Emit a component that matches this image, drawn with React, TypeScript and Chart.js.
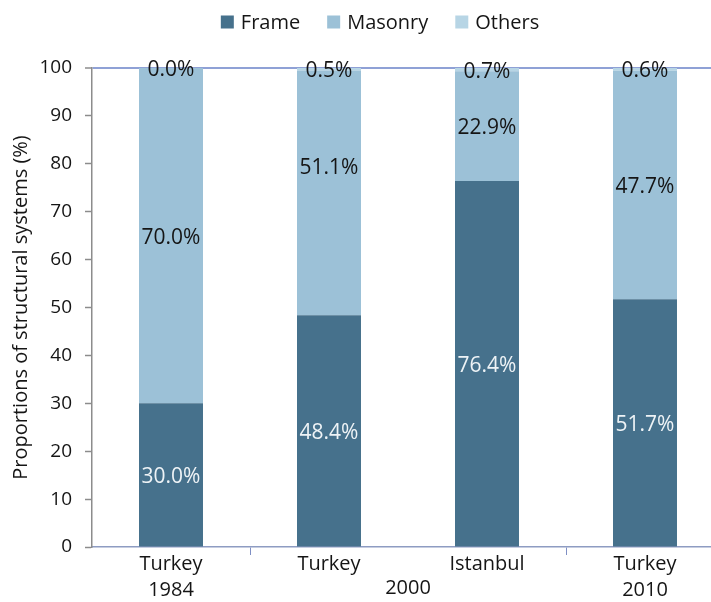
import React, { useEffect, useRef } from "react";
import { Chart, registerables } from "chart.js";

Chart.register(...registerables);

// Category labels (first line / second line under each bar)
const placeNames = ["Turkey", "Turkey", "Istanbul", "Turkey"];
const yearLines = ["1984", "", "", "2010"];
// Year shared by the two middle bars
const sharedYear = "2000";

// Proportions of structural systems (%)
const frameValues = [30.0, 48.4, 76.4, 51.7];
const masonryValues = [70.0, 51.1, 22.9, 47.7];
const otherValues = [0.0, 0.5, 0.7, 0.6];

const seriesNames = ["Frame", "Masonry", "Others"];
const seriesColors = ["#46718C", "#9CC1D7", "#B7D5E5"];
const labelColors = ["#EEF3F6", "#151515", "#151515"];

const yTicks = [0, 10, 20, 30, 40, 50, 60, 70, 80, 90, 100];

const FONT = "'Open Sans', sans-serif";
const TEXT = "#151515";

// Masonry label on the second bar sits a little higher than its segment centre
const labelShift: Record<string, number> = { "1:1": -27 };

const valueLabels = {
  id: "valueLabels",
  afterDatasetsDraw(chart: any) {
    const ctx = chart.ctx;
    ctx.save();
    ctx.font = `21px ${FONT}`;
    ctx.textAlign = "center";
    ctx.textBaseline = "middle";
    chart.data.datasets.forEach((ds: any, di: number) => {
      const meta = chart.getDatasetMeta(di);
      meta.data.forEach((el: any, i: number) => {
        const { x, y, base } = el.getProps(["x", "y", "base"], true);
        const shift = labelShift[`${di}:${i}`] || 0;
        ctx.fillStyle = labelColors[di];
        ctx.fillText(`${Number(ds.data[i]).toFixed(1)}%`, x, (y + base) / 2 + 2 + shift);
      });
    });
    ctx.restore();
  },
};

const sharedYearLabel = {
  id: "sharedYearLabel",
  afterDraw(chart: any) {
    const xs = chart.scales.x;
    const ctx = chart.ctx;
    const x = (xs.getPixelForValue(1) + xs.getPixelForValue(2)) / 2;
    ctx.save();
    ctx.font = `20px ${FONT}`;
    ctx.fillStyle = TEXT;
    ctx.textAlign = "center";
    ctx.textBaseline = "middle";
    ctx.fillText(sharedYear, x, xs.top + 41);
    ctx.restore();
  },
};

const topLegend = {
  id: "topLegend",
  afterDraw(chart: any) {
    const ctx = chart.ctx;
    ctx.save();
    ctx.font = `20px ${FONT}`;
    ctx.textBaseline = "middle";
    const box = 13;
    const gapBoxText = 7;
    const gapItems = 27;
    const widths = seriesNames.map((n) => box + gapBoxText + ctx.measureText(n).width);
    const total = widths.reduce((a, b) => a + b, 0) + gapItems * (seriesNames.length - 1);
    let x = 380 - total / 2;
    const cy = 22;
    seriesNames.forEach((n, i) => {
      ctx.fillStyle = seriesColors[i];
      ctx.fillRect(x, cy - box / 2, box, box);
      ctx.fillStyle = TEXT;
      ctx.textAlign = "left";
      ctx.fillText(n, x + box + gapBoxText, cy + 1);
      x += widths[i] + gapItems;
    });
    ctx.restore();
  },
};

export default function App() {
  const canvasRef = useRef<HTMLCanvasElement | null>(null);

  useEffect(() => {
    const canvas = canvasRef.current;
    if (!canvas) return;
    const values = [frameValues, masonryValues, otherValues];
    const chart = new Chart(canvas, {
      type: "bar",
      data: {
        labels: placeNames.map((p, i) => [p, yearLines[i]]),
        datasets: seriesNames.map((name, i) => ({
          label: name,
          data: values[i],
          backgroundColor: seriesColors[i],
          borderWidth: 0,
          categoryPercentage: 1,
          barPercentage: 0.405,
        })),
      },
      options: {
        responsive: false,
        animation: false,
        devicePixelRatio: 1,
        layout: { padding: { top: 68, left: 0, right: 0, bottom: 0 } },
        plugins: {
          legend: { display: false },
          tooltip: { enabled: false },
        },
        scales: {
          x: {
            stacked: true,
            border: { display: true, color: "#8E9CC2", width: 1.5 },
            grid: {
              drawOnChartArea: false,
              drawTicks: true,
              tickLength: 8,
              offset: true,
              tickColor: (c: any) => (c.index === 1 || c.index === 3 ? "#7F8FC4" : "rgba(0,0,0,0)"),
            },
            ticks: {
              font: { family: FONT, size: 20, lineHeight: 1.3 },
              color: TEXT,
              padding: -4,
              maxRotation: 0,
              autoSkip: false,
            },
            afterFit: (s: any) => {
              s.height = 55;
            },
          },
          y: {
            stacked: true,
            min: 0,
            max: 100,
            afterBuildTicks: (s: any) => {
              s.ticks = yTicks.map((v) => ({ value: v }));
            },
            border: { display: true, color: "#8C8C8C", width: 1.5 },
            grid: {
              drawOnChartArea: true,
              tickLength: 7,
              color: (c: any) => (c.tick && c.tick.value === 100 ? "#8FA1D6" : "rgba(0,0,0,0)"),
              lineWidth: (c: any) => (c.tick && c.tick.value === 100 ? 2 : 1),
              tickColor: "#8C8C8C",
              tickWidth: 1.5,
            },
            ticks: {
              font: { family: FONT, size: 19 },
              color: TEXT,
              padding: 13,
            },
            title: {
              display: true,
              text: "Proportions of structural systems (%)",
              font: { family: FONT, size: 20 },
              color: TEXT,
              padding: { top: 9, bottom: 0 },
            },
            afterFit: (s: any) => {
              s.width = 92;
            },
          },
        },
      },
      plugins: [valueLabels, sharedYearLabel, topLegend],
    });
    return () => chart.destroy();
  }, []);

  return (
    <div
      style={{
        position: "fixed",
        left: 0,
        top: 0,
        width: 711,
        height: 602,
        overflow: "hidden",
        background: "#FFFFFF",
      }}
    >
      <canvas ref={canvasRef} width={724} height={602} style={{ display: "block" }} />
    </div>
  );
}
